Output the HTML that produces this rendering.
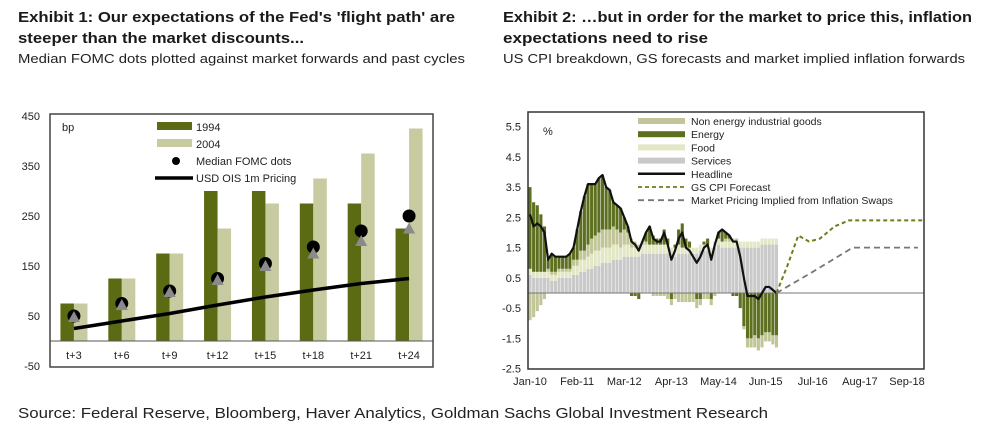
<!DOCTYPE html>
<html><head><meta charset="utf-8"><style>
body{margin:0;background:#fff;}
svg{display:block;font-family:"Liberation Sans",Arial,sans-serif;}
</style></head><body>
<svg id="root" width="990" height="439" viewBox="0 0 990 439">
<g font-weight="bold" font-size="15" fill="#1a1a1a">
<text x="18" y="22" textLength="437" lengthAdjust="spacingAndGlyphs">Exhibit 1: Our expectations of the Fed's 'flight path' are</text>
<text x="18" y="43" textLength="286" lengthAdjust="spacingAndGlyphs">steeper than the market discounts...</text>
</g>
<text x="18" y="63" font-size="13" fill="#222" textLength="447" lengthAdjust="spacingAndGlyphs">Median FOMC dots plotted against market forwards and past cycles</text>
<g font-weight="bold" font-size="15" fill="#1a1a1a">
<text x="503" y="22" textLength="469" lengthAdjust="spacingAndGlyphs">Exhibit 2: …but in order for the market to price this, inflation</text>
<text x="503" y="43" textLength="205" lengthAdjust="spacingAndGlyphs">expectations need to rise</text>
</g>
<text x="503" y="63" font-size="13" fill="#222" textLength="462" lengthAdjust="spacingAndGlyphs">US CPI breakdown, GS forecasts and market implied inflation forwards</text>
<text x="18" y="418" font-size="15" fill="#222" textLength="750" lengthAdjust="spacingAndGlyphs">Source: Federal Reserve, Bloomberg, Haver Analytics, Goldman Sachs Global Investment Research</text>
<g id="left"></g>
<g id="right"></g>
</svg>
<script>
// ---- Left chart data ----
const lCats = ["t+3","t+6","t+9","t+12","t+15","t+18","t+21","t+24"];
const lY1994 = [75,125,175,300,300,275,275,225];
const lY2004 = [75,125,175,225,275,325,375,425];
const lDots = [50,75,100,125,155,188,220,250];
const lTri = [48,72,98,122,150,175,200,225];
const lOis = [25,40,55,72,88,102,115,125];
const lTicks = [450,350,250,150,50,-50];

// ---- Right chart data (monthly from Jan-10) ----
const rHeadline = [2.6,2.2,2.3,2.2,2.0,1.1,1.3,1.2,1.2,1.2,1.2,1.3,
1.5,2.1,2.7,3.2,3.6,3.6,3.6,3.8,3.9,3.5,3.4,3.0,
2.9,2.8,2.5,2.2,1.7,1.6,1.4,1.7,2.0,2.2,1.8,1.7,
1.7,2.0,1.6,1.1,1.4,1.8,2.0,1.5,1.4,1.2,1.0,1.2,
1.5,1.6,1.1,1.6,2.0,2.1,2.0,1.9,1.7,1.7,1.2,0.5,
-0.1,-0.1,-0.1,-0.2,0.0,0.2,0.2,0.1,0.0];
const rServices = [0.6,0.5,0.5,0.5,0.5,0.5,0.4,0.4,0.5,0.5,0.5,0.5,
0.6,0.6,0.7,0.7,0.8,0.8,0.9,0.9,1.0,1.0,1.0,1.1,
1.1,1.1,1.2,1.2,1.2,1.2,1.2,1.3,1.3,1.3,1.3,1.3,
1.3,1.3,1.3,1.2,1.2,1.3,1.3,1.3,1.3,1.3,1.3,1.4,
1.4,1.4,1.3,1.5,1.6,1.5,1.5,1.5,1.5,1.5,1.5,1.5,
1.5,1.5,1.5,1.5,1.6,1.6,1.6,1.6,1.6];
const rFood = [0.2,0.2,0.2,0.2,0.2,0.2,0.2,0.2,0.2,0.2,0.2,0.2,
0.3,0.3,0.4,0.4,0.4,0.5,0.5,0.5,0.5,0.5,0.5,0.5,
0.5,0.4,0.4,0.4,0.3,0.3,0.3,0.3,0.3,0.3,0.3,0.3,
0.3,0.3,0.3,0.3,0.3,0.3,0.2,0.2,0.2,0.2,0.2,0.2,
0.2,0.2,0.2,0.2,0.2,0.2,0.2,0.2,0.2,0.2,0.2,0.2,
0.2,0.2,0.2,0.2,0.2,0.2,0.2,0.2,0.2];
const rGoods = [-0.9,-0.8,-0.6,-0.4,-0.2,0.1,0.1,0.1,0.1,0.1,0.1,0.1,
0.2,0.2,0.3,0.3,0.4,0.5,0.5,0.6,0.6,0.6,0.6,0.6,
0.5,0.5,0.5,0.4,0.3,0.2,0.1,0.1,0.1,0.0,-0.1,-0.1,
-0.1,-0.1,-0.2,-0.2,-0.2,-0.3,-0.3,-0.3,-0.3,-0.3,-0.3,-0.2,
-0.2,-0.2,-0.2,-0.1,0.0,0.0,0.1,0.1,0.1,0.1,0.0,-0.1,
-0.3,-0.3,-0.4,-0.4,-0.4,-0.3,-0.3,-0.3,-0.4];
const rEnergy = [2.7,2.3,2.2,1.9,1.5,0.3,0.6,0.5,0.4,0.4,0.4,0.5,
0.4,1.0,1.3,1.8,2.0,1.8,1.7,1.8,1.8,1.4,1.3,0.8,
0.8,0.8,0.4,0.2,-0.1,-0.1,-0.2,0.0,0.3,0.6,0.3,0.2,
0.2,0.5,0.2,-0.2,0.1,0.5,0.8,0.3,0.2,0.0,-0.2,-0.2,
0.1,0.2,-0.2,0.0,0.2,0.4,0.2,0.1,-0.1,-0.1,-0.5,-1.1,
-1.5,-1.5,-1.4,-1.5,-1.4,-1.3,-1.3,-1.4,-1.4];
const rGsMonths = [68,71,74,77,80,84,88,92,96,100,104,109];
const rGsValues = [0.0,0.9,1.9,1.7,1.8,2.2,2.4,2.4,2.4,2.4,2.4,2.4];
const rMktMonths = [68,78,89,96,104,107];
const rMktValues = [0.0,0.7,1.5,1.5,1.5,1.5];
const rYTicks = [5.5,4.5,3.5,2.5,1.5,0.5,-0.5,-1.5,-2.5];
const rYLabels = ["5.5","4.5","3.5","2.5","1.5","0.5","-0.5","-1.5","-2.5"];
const rXTickMonths = [0,13,26,39,52,65,78,91,104];
const rXLabels = ["Jan-10","Feb-11","Mar-12","Apr-13","May-14","Jun-15","Jul-16","Aug-17","Sep-18"];

const NS="http://www.w3.org/2000/svg";
function mk(parent,tag,attrs,text){const e=document.createElementNS(NS,tag);for(const k in attrs)e.setAttribute(k,attrs[k]);if(text!==undefined)e.textContent=text;parent.appendChild(e);return e;}

// ===== Left chart =====
(function(){
const g=document.getElementById('left');
const L=50,R=433,T=114,B=367;
const y=v=>341-(v)*0.5;
const band=(R-L)/lCats.length;
const cx=i=>L+band*(i+0.5);
const bw=13.5;
lTicks.forEach(t=>{const e=mk(g,'text',{x:40,y:y(t)+4,'font-size':11,'text-anchor':'end',fill:'#222'},String(t));

});
lCats.forEach((c,i)=>{
 let b=mk(g,'rect',{x:cx(i)-bw,y:y(lY1994[i]),width:bw,height:y(0)-y(lY1994[i]),fill:'#5a6b14'});
 
 
 b=mk(g,'rect',{x:cx(i),y:y(lY2004[i]),width:bw,height:y(0)-y(lY2004[i]),fill:'#c8caa0'});
 
 
 const t=mk(g,'text',{x:cx(i),y:359,'font-size':11,'text-anchor':'middle',fill:'#222'},c);
 
 
});
const zl=mk(g,'line',{x1:L,x2:R,y1:y(0),y2:y(0),stroke:'#555','stroke-width':1});


const pts=lOis.map((v,i)=>cx(i)+','+y(v)).join(' ');
const ln=mk(g,'polyline',{points:pts,fill:'none',stroke:'#000','stroke-width':3.5});


lDots.forEach((v,i)=>{
 const d=mk(g,'circle',{cx:cx(i),cy:y(v),r:6.5,fill:'#000'});
 
 
 const ty=y(lTri[i]);
 const tr=mk(g,'polygon',{points:`${cx(i)},${ty-6} ${cx(i)-6},${ty+5} ${cx(i)+6},${ty+5}`,fill:'#8a8a8a'});
 
 
});
const fr=mk(g,'rect',{x:L,y:T,width:R-L,height:B-T,fill:'none',stroke:'#444','stroke-width':1.5});


const bp=mk(g,'text',{x:62,y:131,'font-size':11,fill:'#222'},'bp');


const lg=mk(g,'g',{});


mk(lg,'rect',{x:157,y:122,width:35,height:8,fill:'#5a6b14'});
mk(lg,'text',{x:196,y:131,'font-size':11,fill:'#222'},'1994');
mk(lg,'rect',{x:157,y:139,width:35,height:8,fill:'#c8caa0'});
mk(lg,'text',{x:196,y:148,'font-size':11,fill:'#222'},'2004');
mk(lg,'circle',{cx:176,cy:161,r:4,fill:'#000'});
mk(lg,'text',{x:196,y:165,'font-size':11,fill:'#222'},'Median FOMC dots');
mk(lg,'line',{x1:155,x2:193,y1:178,y2:178,stroke:'#000','stroke-width':3.5});
mk(lg,'text',{x:196,y:182,'font-size':11,fill:'#222'},'USD OIS 1m Pricing');
})();

// ===== Right chart =====
(function(){
const g=document.getElementById('right');
const L=528,R=924,T=112,B=369;
const x=m=>530+m*3.625;
const y=v=>293-v*30.25;
const bw=3.1;
rYTicks.forEach((t,i)=>{const e=mk(g,'text',{x:521,y:y(t)+4,'font-size':11,'text-anchor':'end',fill:'#222'},rYLabels[i]);

});
rXTickMonths.forEach((m,i)=>{const e=mk(g,'text',{x:x(m),y:385,'font-size':11,'text-anchor':'middle',fill:'#222'},rXLabels[i]);

});
const cols={s:'#c9c9c9',f:'#e3e7c6',g:'#c2c597',e:'#5d7020'};
rHeadline.forEach((h,i)=>{
 let pos=0,neg=0;
 const parts=[['s',rServices[i]],['f',rFood[i]],['g',rGoods[i]],['e',rEnergy[i]]];
 const negParts=[['e',rEnergy[i]],['g',rGoods[i]],['s',rServices[i]],['f',rFood[i]]];
 parts.forEach(([k,v])=>{if(v>0){const r=mk(g,'rect',{x:x(i)-bw/2,y:y(pos+v),width:bw,height:v*30.25,fill:cols[k]});
  
  pos+=v;}});
 negParts.forEach(([k,v])=>{if(v<0){const r=mk(g,'rect',{x:x(i)-bw/2,y:y(neg),width:bw,height:-v*30.25,fill:cols[k]});
  
  neg+=v;}});
});
const zl=mk(g,'line',{x1:L,x2:R,y1:y(0),y2:y(0),stroke:'#777','stroke-width':1});


const hl=mk(g,'polyline',{points:rHeadline.map((v,i)=>x(i)+','+y(v)).join(' '),fill:'none',stroke:'#111','stroke-width':2.2,'stroke-linejoin':'round'});


const gs=mk(g,'polyline',{points:rGsMonths.map((m,i)=>x(m)+','+y(rGsValues[i])).join(' '),fill:'none',stroke:'#6b7f1a','stroke-width':2,'stroke-dasharray':'4,3'});


const mp=mk(g,'polyline',{points:rMktMonths.map((m,i)=>x(m)+','+y(rMktValues[i])).join(' '),fill:'none',stroke:'#777','stroke-width':1.8,'stroke-dasharray':'6,4'});


const fr=mk(g,'rect',{x:L,y:T,width:R-L,height:B-T,fill:'none',stroke:'#333','stroke-width':1.5});


const pc=mk(g,'text',{x:543,y:135,'font-size':11,fill:'#222'},'%');


const lg=mk(g,'g',{'font-size':10.5,fill:'#222'});


const items=[['Non energy industrial goods','rect',cols.g],['Energy','rect',cols.e],['Food','rect',cols.f],['Services','rect',cols.s],['Headline','line','#111'],['GS CPI Forecast','dash','#6b7f1a'],['Market Pricing Implied from Inflation Swaps','dash2','#777']];
items.forEach(([t,kind,c],i)=>{
 const yy=121+i*13.2;
 if(kind==='rect')mk(lg,'rect',{x:638,y:yy-3,width:47,height:6,fill:c});
 else if(kind==='line')mk(lg,'line',{x1:638,x2:685,y1:yy,y2:yy,stroke:c,'stroke-width':2.5});
 else mk(lg,'line',{x1:638,x2:685,y1:yy,y2:yy,stroke:c,'stroke-width':1.8,'stroke-dasharray':kind==='dash'?'4,3':'6,4'});
 mk(lg,'text',{x:691,y:yy+4},t);
});
})();
</script>
</body></html>
